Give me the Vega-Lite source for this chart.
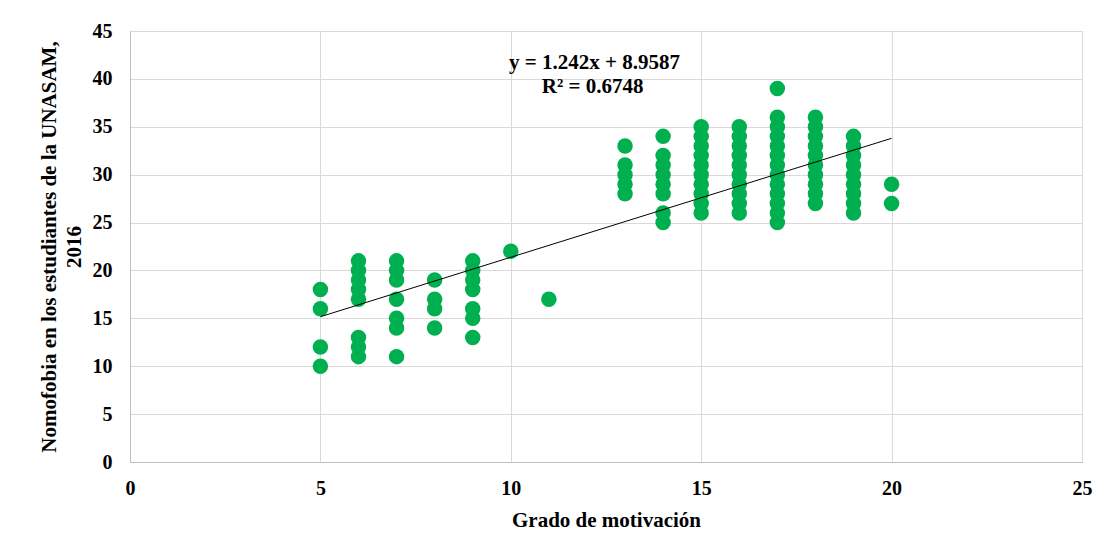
{
  "$schema": "https://vega.github.io/schema/vega-lite/v6.json",
  "width": 952,
  "height": 431,
  "autosize": {"type": "none"},
  "padding": {"left": 130, "top": 31, "right": 28, "bottom": 91},
  "background": "white",
  "config": {
    "font": "Liberation Serif",
    "view": {"stroke": "#d9d9d9"},
    "axis": {
      "labelFont": "Liberation Serif",
      "labelFontWeight": "bold",
      "labelFontSize": 20,
      "labelColor": "#000000",
      "labelFlush": false,
      "labelOverlap": false,
      "titleFont": "Liberation Serif",
      "titleFontWeight": "bold",
      "titleFontSize": 21,
      "titleColor": "#000000",
      "gridColor": "#d9d9d9",
      "domainColor": "#bfbfbf",
      "ticks": false
    }
  },
  "datasets": {
    "pts": [
      {"x":5,"y":18},{"x":5,"y":16},{"x":5,"y":12},{"x":5,"y":10},
      {"x":6,"y":21},{"x":6,"y":20},{"x":6,"y":19},{"x":6,"y":18},{"x":6,"y":17},{"x":6,"y":13},{"x":6,"y":12},{"x":6,"y":11},
      {"x":7,"y":21},{"x":7,"y":20},{"x":7,"y":19},{"x":7,"y":17},{"x":7,"y":15},{"x":7,"y":14},{"x":7,"y":11},
      {"x":8,"y":19},{"x":8,"y":17},{"x":8,"y":16},{"x":8,"y":14},
      {"x":9,"y":21},{"x":9,"y":20},{"x":9,"y":19},{"x":9,"y":18},{"x":9,"y":16},{"x":9,"y":15},{"x":9,"y":13},
      {"x":10,"y":22},
      {"x":11,"y":17},
      {"x":13,"y":33},{"x":13,"y":31},{"x":13,"y":30},{"x":13,"y":29},{"x":13,"y":28},
      {"x":14,"y":34},{"x":14,"y":32},{"x":14,"y":31},{"x":14,"y":30},{"x":14,"y":29},{"x":14,"y":28},{"x":14,"y":26},{"x":14,"y":25},
      {"x":15,"y":35},{"x":15,"y":34},{"x":15,"y":33},{"x":15,"y":32},{"x":15,"y":31},{"x":15,"y":30},{"x":15,"y":29},{"x":15,"y":28},{"x":15,"y":27},{"x":15,"y":26},
      {"x":16,"y":35},{"x":16,"y":34},{"x":16,"y":33},{"x":16,"y":32},{"x":16,"y":31},{"x":16,"y":30},{"x":16,"y":29},{"x":16,"y":28},{"x":16,"y":27},{"x":16,"y":26},
      {"x":17,"y":39},{"x":17,"y":36},{"x":17,"y":35},{"x":17,"y":34},{"x":17,"y":33},{"x":17,"y":32},{"x":17,"y":31},{"x":17,"y":30},{"x":17,"y":29},{"x":17,"y":28},{"x":17,"y":27},{"x":17,"y":26},{"x":17,"y":25},
      {"x":18,"y":36},{"x":18,"y":35},{"x":18,"y":34},{"x":18,"y":33},{"x":18,"y":32},{"x":18,"y":31},{"x":18,"y":30},{"x":18,"y":29},{"x":18,"y":28},{"x":18,"y":27},
      {"x":19,"y":34},{"x":19,"y":33},{"x":19,"y":32},{"x":19,"y":31},{"x":19,"y":30},{"x":19,"y":29},{"x":19,"y":28},{"x":19,"y":27},{"x":19,"y":26},
      {"x":20,"y":29},{"x":20,"y":27}
    ],
    "trend": [
      {"x":5,"y":15.1687},{"x":20,"y":33.7987}
    ],
    "eq": [
      {"x":12.2,"y":41.7,"label":"y = 1.242x + 8.9587"},
      {"x":12.15,"y":39.2,"label":"R² = 0.6748"}
    ]
  },
  "layer": [
    {
      "data": {"name": "pts"},
      "mark": {"type": "circle", "size": 240, "opacity": 1, "color": "#00b050"},
      "encoding": {
        "x": {
          "field": "x", "type": "quantitative",
          "scale": {"domain": [0, 25], "nice": false},
          "axis": {"values": [0,5,10,15,20,25], "title": "Grado de motivación", "labelPadding": 16, "titlePadding": 11}
        },
        "y": {
          "field": "y", "type": "quantitative",
          "scale": {"domain": [0, 45], "nice": false},
          "axis": {"values": [0,5,10,15,20,25,30,35,40,45], "title": ["Nomofobia en los estudiantes de la UNASAM,", "2016"], "titleLineHeight": 25, "labelPadding": 18, "titlePadding": 8}
        }
      }
    },
    {
      "data": {"name": "trend"},
      "mark": {"type": "line", "color": "#000000", "strokeWidth": 1},
      "encoding": {
        "x": {"field": "x", "type": "quantitative"},
        "y": {"field": "y", "type": "quantitative"}
      }
    },
    {
      "data": {"name": "eq"},
      "mark": {"type": "text", "font": "Liberation Serif", "fontWeight": "bold", "fontSize": 21, "color": "#000000", "align": "center", "baseline": "middle"},
      "encoding": {
        "x": {"field": "x", "type": "quantitative"},
        "y": {"field": "y", "type": "quantitative"},
        "text": {"field": "label"}
      }
    }
  ]
}
